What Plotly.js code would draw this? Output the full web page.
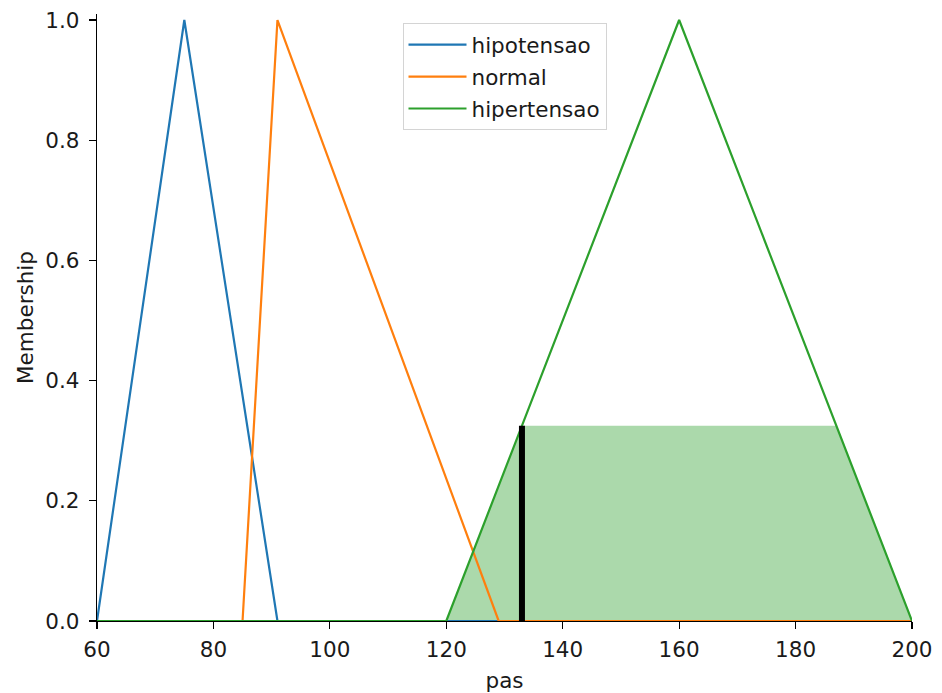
<!DOCTYPE html>
<html>
<head>
<meta charset="utf-8">
<script src="https://cdn.plot.ly/plotly-3.0.1.min.js"></script>
<style>
  html, body { margin: 0; padding: 0; background: #fff; }
  #chart { width: 942px; height: 693px; }
</style>
</head>
<body>
<div id="chart"></div>
<script>
// Membership functions of the "pas" variable (breakpoints over the universe 60..200)
const hipotensaoX = [60, 75, 91, 200];
const hipotensaoY = [0, 1, 0, 0];

const normalX = [60, 85, 91, 129, 200];
const normalY = [0, 0, 1, 0, 0];

const hipertensaoX = [60, 120, 160, 200];
const hipertensaoY = [0, 0, 1, 0];

// Crisp input and the clipped activation area of "hipertensao"
const crispValue = 133;
const crispMembership = 0.325;
const activationX = [60, 120, 133, 187, 200];
const activationY = [0, 0, 0.325, 0.325, 0];

const xTicks = [60, 80, 100, 120, 140, 160, 180, 200];
const yTicks = [0, 0.2, 0.4, 0.6, 0.8, 1.0];

const FONT = 'DejaVu Sans, sans-serif';
const FS = 21.5;
const TXT = '#1a1a1a';

const traces = [
  {
    x: activationX, y: activationY, type: 'scatter', mode: 'lines',
    fill: 'tozeroy', fillcolor: 'rgba(44,160,44,0.4)',
    line: { width: 0, color: 'rgba(44,160,44,0)' },
    showlegend: false, hoverinfo: 'skip'
  },
  {
    x: hipotensaoX, y: hipotensaoY, type: 'scatter', mode: 'lines',
    name: 'hipotensao', legendgroup: 'g1', line: { color: '#1f77b4', width: 2.2 }
  },
  {
    x: normalX, y: normalY, type: 'scatter', mode: 'lines',
    name: 'normal', legendgroup: 'g2', line: { color: '#ff7f0e', width: 2.2 }
  },
  {
    x: hipertensaoX, y: hipertensaoY, type: 'scatter', mode: 'lines',
    name: 'hipertensao', legendgroup: 'g3', line: { color: '#2ca02c', width: 2.2 }
  },
  {
    x: [crispValue, crispValue], y: [0, crispMembership], type: 'scatter', mode: 'lines',
    line: { color: '#000000', width: 6 }, showlegend: false
  }
];

const layout = {
  width: 942, height: 693,
  paper_bgcolor: '#ffffff', plot_bgcolor: '#ffffff',
  margin: { l: 97, r: 30, t: 14, b: 72 },
  font: { family: FONT, size: FS, color: TXT },
  showlegend: true,
  legend: {
    x: 0.5, xanchor: 'center', y: 0.985, yanchor: 'top',
    bgcolor: 'rgba(255,255,255,0.8)', bordercolor: '#d4d4d4', borderwidth: 1,
    font: { family: FONT, size: FS, color: TXT },
    tracegroupgap: 1, itemwidth: 58
  },
  xaxis: {
    range: [60, 200], tickvals: xTicks, ticktext: xTicks.map(String),
    showgrid: false, zeroline: false,
    showline: true, linecolor: '#000000', linewidth: 1.2,
    ticks: 'outside', ticklen: 7, tickwidth: 1.2, tickcolor: '#000000',
    ticklabelstandoff: 2,
    tickfont: { family: FONT, size: FS, color: TXT },
    title: { text: 'pas', font: { family: FONT, size: FS, color: TXT }, standoff: 12 }
  },
  yaxis: {
    range: [0, 1.01], tickvals: yTicks, ticktext: yTicks.map(v => v.toFixed(1)),
    showgrid: false, zeroline: false,
    showline: true, linecolor: '#000000', linewidth: 1.2,
    ticks: 'outside', ticklen: 7, tickwidth: 1.2, tickcolor: '#000000',
    ticklabelstandoff: 5,
    tickfont: { family: FONT, size: FS, color: TXT },
    title: { text: 'Membership', font: { family: FONT, size: FS, color: TXT }, standoff: 5 }
  }
};

Plotly.newPlot('chart', traces, layout, { staticPlot: true, displayModeBar: false });
</script>
</body>
</html>
